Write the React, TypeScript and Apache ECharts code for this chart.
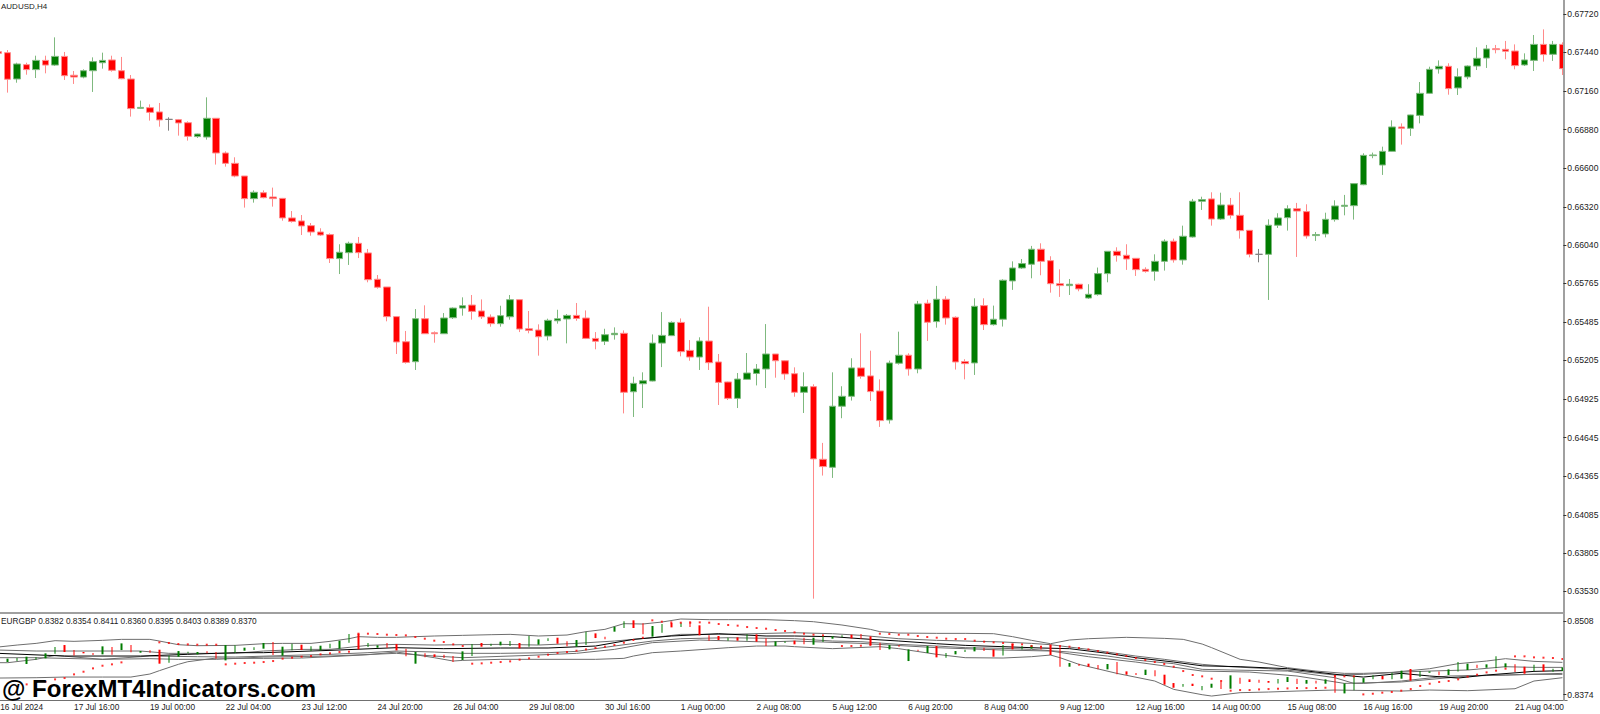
import React, { useRef, useEffect } from 'react'
import * as echarts from 'echarts'

// all prices are stored in points (1 point = 0.00001)
const POINT = 100000

const opens = [
  67445, 67438, 67247, 67351, 67315, 67382, 67348, 67411, 67274, 67261,
  67307, 67365, 67385, 67307, 67247, 67034, 67039, 67008, 66954, 66952,
  66930, 66829, 66826, 66962, 66710, 66635, 66543, 66379, 66422, 66391,
  66381, 66239, 66217, 66183, 66137, 66118, 65944, 65987, 66055, 65985,
  65794, 65738, 65523, 65341, 65196, 65508, 65406, 65399, 65515, 65585,
  65607, 65564, 65520, 65472, 65522, 65646, 65435, 65426, 65382, 65493,
  65506, 65532, 65513, 65365, 65344, 65392, 65402, 64978, 65036, 65056,
  65331, 65385, 65481, 65278, 65230, 65346, 65194, 65049, 64930, 65068,
  65111, 65143, 65252, 65203, 65109, 64974, 65015, 64488, 64430, 64873,
  64945, 65151, 65093, 64984, 64773, 65185, 65243, 65143, 65620, 65487,
  65649, 65518, 65197, 65187, 65603, 65465, 65504, 65782, 65876, 65903,
  66012, 65929, 65762, 65748, 65758, 65658, 65683, 65835, 65997, 65968,
  65946, 65866, 65852, 65924, 66070, 65934, 66101, 66360, 66377, 66231,
  66333, 66258, 66149, 65975, 65975, 66186, 66241, 66306, 66285, 66111,
  66123, 66227, 66323, 66328, 66480, 66691, 66623, 66722, 66899, 66889,
  66983, 67143, 67320, 67339, 67182, 67262, 67341, 67399, 67467, 67462,
  67450, 67349, 67382, 67498, 67426, 67498,
]
const closes = [
  67433, 67245, 67356, 67315, 67382, 67348, 67411, 67271, 67261, 67307,
  67373, 67382, 67310, 67249, 67032, 67041, 67005, 66950, 66954, 66928,
  66831, 66848, 66962, 66710, 66635, 66543, 66379, 66425, 66386, 66379,
  66239, 66214, 66181, 66137, 66115, 65944, 65990, 66055, 65987, 65791,
  65736, 65523, 65339, 65191, 65508, 65399, 65399, 65513, 65585, 65602,
  65561, 65522, 65472, 65530, 65646, 65433, 65423, 65377, 65496, 65508,
  65532, 65510, 65365, 65344, 65392, 65402, 64974, 65039, 65058, 65331,
  65387, 65481, 65269, 65230, 65346, 65189, 65046, 64930, 65070, 65114,
  65143, 65252, 65203, 65107, 64974, 65015, 64491, 64435, 64873, 64945,
  65151, 65090, 64979, 64769, 65187, 65243, 65143, 65615, 65482, 65649,
  65513, 65194, 65182, 65598, 65465, 65504, 65787, 65876, 65908, 66012,
  65924, 65762, 65748, 65758, 65724, 65685, 65835, 65997, 65966, 65941,
  65864, 65852, 65924, 66070, 65934, 66106, 66360, 66372, 66231, 66333,
  66258, 66147, 65975, 65975, 66186, 66239, 66306, 66289, 66108, 66118,
  66229, 66326, 66331, 66488, 66693, 66696, 66722, 66899, 66889, 66986,
  67143, 67317, 67339, 67177, 67264, 67341, 67397, 67465, 67460, 67448,
  67344, 67385, 67498, 67424, 67498, 67322,
]
const highs = [
  67452, 67457, 67365, 67365, 67416, 67416, 67549, 67443, 67305, 67317,
  67404, 67438, 67416, 67407, 67276, 67090, 67063, 67073, 66969, 66957,
  66940, 66850, 67114, 66962, 66722, 66679, 66543, 66439, 66439, 66459,
  66384, 66289, 66260, 66202, 66164, 66127, 66048, 66067, 66101, 66014,
  65825, 65738, 65523, 65419, 65578, 65605, 65416, 65549, 65590, 65663,
  65680, 65648, 65539, 65602, 65680, 65646, 65564, 65467, 65508, 65573,
  65542, 65622, 65568, 65411, 65435, 65445, 65423, 65087, 65119, 65394,
  65556, 65489, 65510, 65353, 65373, 65595, 65252, 65051, 65114, 65259,
  65179, 65469, 65252, 65208, 65155, 65119, 65032, 64607, 65119, 65018,
  65221, 65402, 65276, 65068, 65204, 65414, 65257, 65637, 65646, 65746,
  65671, 65525, 65214, 65656, 65656, 65603, 65794, 65924, 65941, 66036,
  66055, 65961, 65866, 65796, 65762, 65758, 65879, 65999, 66026, 66048,
  65946, 65881, 65975, 66084, 66089, 66183, 66377, 66393, 66425, 66422,
  66384, 66425, 66149, 66014, 66229, 66273, 66331, 66348, 66338, 66137,
  66277, 66367, 66406, 66490, 66708, 66713, 66756, 66947, 66925, 66988,
  67225, 67336, 67382, 67361, 67324, 67346, 67477, 67494, 67494, 67523,
  67498, 67433, 67566, 67607, 67523, 67513,
]
const lows = [
  67426, 67148, 67220, 67278, 67254, 67288, 67341, 67240, 67211, 67252,
  67153, 67322, 67300, 67245, 66974, 67032, 66945, 66901, 66872, 66836,
  66800, 66819, 66807, 66626, 66611, 66534, 66314, 66350, 66381, 66321,
  66219, 66205, 66115, 66110, 66108, 65912, 65832, 65898, 65948, 65772,
  65726, 65489, 65252, 65182, 65136, 65399, 65334, 65399, 65506, 65530,
  65501, 65506, 65450, 65450, 65501, 65411, 65402, 65240, 65351, 65472,
  65329, 65493, 65360, 65286, 65317, 65356, 64821, 64795, 64860, 65053,
  65157, 65382, 65235, 65203, 65136, 65136, 64882, 64918, 64860, 65065,
  65024, 65005, 65080, 65065, 64942, 64824, 63477, 64370, 64353, 64786,
  64914, 65073, 64911, 64723, 64747, 65175, 65095, 65112, 65347, 65443,
  65465, 65139, 65068, 65100, 65426, 65458, 65451, 65717, 65869, 65801,
  65823, 65697, 65666, 65680, 65707, 65651, 65675, 65772, 65922, 65862,
  65818, 65842, 65784, 65857, 65915, 65900, 66096, 66297, 66183, 66224,
  66234, 66089, 65953, 65917, 65644, 66166, 66147, 65956, 66089, 66072,
  66098, 66212, 66258, 66227, 66476, 66672, 66551, 66720, 66771, 66834,
  66925, 67138, 67286, 67133, 67131, 67245, 67312, 67327, 67433, 67390,
  67317, 67341, 67305, 67373, 67378, 67276,
]

// lower panel: EURGBP bars
const subOpens = [
  84383, 84334, 84352, 84298, 84377, 84401, 84486, 84643, 84552, 84516,
  84498, 84474, 84607, 84552, 84643, 84504, 84546, 84558, 84322, 84431,
  84492, 84474, 84528, 84516, 84364, 84498, 84540, 84552, 84577, 84698,
  84449, 84546, 84649, 84534, 84546, 84583, 84577, 84686, 84849, 84607,
  84595, 84680, 84661, 84577, 84304, 84492, 84474, 84467, 84443, 84370,
  84443, 84680, 84625, 84637, 84625, 84680, 84613, 84649, 84716, 84776,
  84710, 84613, 84643, 84855, 84795, 84886, 84952, 85092, 85037, 84795,
  84867, 85043, 84970, 85073, 85001, 84819, 84807, 84722, 84783, 84722,
  84837, 84764, 84625, 84680, 84722, 84776, 84649, 84698, 84758, 84783,
  84831, 84843, 84801, 84686, 84564, 84643, 84352, 84558, 84498, 84625,
  84413, 84474, 84516, 84528, 84595, 84564, 84455, 84667, 84564, 84577,
  84625, 84637, 84613, 84249, 84304, 84304, 84280, 84201, 84334, 84164,
  84134, 84098, 84183, 84104, 83952, 83886, 83940, 83819, 83867, 83977,
  83849, 84049, 84019, 84013, 83989, 83946, 83971, 84031, 83940, 83995,
  83940, 84098, 83764, 83819, 83958, 84019, 84080, 84019, 84031, 84207,
  84061, 84140, 84164, 84098, 84164, 84189, 84286, 84231, 84219, 84237,
  84292, 84249, 84170, 84292, 84158, 84170,
]
const subCloses = [
  84358, 84395, 84407, 84431, 84419, 84492, 84607, 84516, 84455, 84492,
  84461, 84619, 84467, 84673, 84510, 84534, 84504, 84304, 84455, 84534,
  84522, 84516, 84492, 84395, 84643, 84637, 84595, 84601, 84680, 84461,
  84613, 84667, 84552, 84619, 84631, 84667, 84722, 84843, 84564, 84680,
  84637, 84595, 84546, 84437, 84516, 84419, 84425, 84407, 84334, 84528,
  84661, 84613, 84667, 84704, 84716, 84583, 84807, 84746, 84764, 84667,
  84619, 84734, 84886, 84770, 84746, 84976, 85073, 84952, 84837, 84989,
  85025, 84964, 85049, 84970, 84819, 84722, 84734, 84776, 84722, 84837,
  84704, 84625, 84710, 84710, 84655, 84655, 84776, 84807, 84801, 84819,
  84764, 84758, 84643, 84552, 84643, 84613, 84564, 84534, 84625, 84419,
  84498, 84534, 84558, 84607, 84534, 84431, 84643, 84564, 84625, 84637,
  84564, 84461, 84249, 84316, 84261, 84249, 84201, 84298, 84110, 84104,
  84098, 84195, 84074, 83922, 83867, 83934, 83898, 83898, 83940, 83843,
  84092, 83940, 83971, 83958, 83958, 84025, 84061, 83934, 84007, 83946,
  84019, 83777, 83946, 84080, 84043, 84092, 84019, 84140, 84177, 83995,
  84170, 84164, 84092, 84201, 84334, 84304, 84225, 84292, 84437, 84310,
  84152, 84122, 84286, 84164, 84213, 84237,
]
const sarDots = [
  null, null, null, 83928, 83971, 83977, 84019, 84043, 84110, 84158,
  84219, 84267, 84292, 84328, null, null, null, 84692, 84680, 84661,
  84655, 84649, 84649, 84649, 84292, 84304, 84316, 84322, 84334, 84352,
  84395, 84413, 84431, 84443, 84474, 84492, 84516, 84522, 84849, 84849,
  84843, 84831, 84825, 84819, 84789, 84758, 84722, 84698, 84655, 84625,
  84304, 84310, 84322, 84334, 84346, 84377, 84401, 84431, 84467, 84498,
  84516, 84540, 84564, 84589, 84613, 84643, 84686, 84734, 84776, 85092,
  85067, 85055, 85049, 85049, 85055, 85049, 85025, 85007, 84995, 84970,
  84952, 84940, 84916, 84898, 84873, 84849, 84831, 84819, null, 84625,
  84625, 84631, 84643, 84849, 84843, 84831, 84831, 84807, 84789, 84776,
  84758, 84752, 84752, 84722, 84704, 84692, 84680, 84655, 84655, 84625,
  84613, 84637, 84625, 84613, 84589, 84564, 84534, 84504, 84474, 84443,
  84407, 84370, 84334, 84298, 84249, 84170, 84098, 84074, 84031, 83989,
  83813, 83825, 83825, 83837, 83843, 83849, 83855, 83861, 83861, 83861,
  83867, 84080, 84074, 84074, 83746, 83758, 83777, 83789, 83813, 83843,
  83898, 83940, 83971, 83989, 84019, 84068, 84104, 84146, 84177, 84213,
  84437, 84437, 84419, 84413, 84407, 84389,
]

// band lines, read at [bar, points]
const bandUpper = [
  [0, 84607], [2, 84643], [4, 84673], [6, 84722], [8, 84710], [11, 84728], [13, 84746], [16, 84746], [17, 84716], [19, 84649],
  [21, 84631], [25, 84637], [28, 84667], [30, 84673], [33, 84673], [35, 84710], [37, 84758], [38, 84795], [40, 84783], [42, 84783],
  [44, 84795], [46, 84807], [49, 84819], [52, 84831], [54, 84837], [57, 84807], [60, 84825], [62, 84886], [64, 84928], [66, 85031],
  [68, 85025], [70, 85061], [72, 85116], [75, 85104], [77, 85104], [81, 85104], [84, 85086], [86, 85067], [89, 85007], [92, 84928],
  [93, 84886], [95, 84861], [99, 84855], [102, 84855], [105, 84849], [107, 84795], [109, 84728], [111, 84667], [113, 84734], [115, 84758],
  [119, 84783], [123, 84764], [125, 84746], [127, 84661], [128, 84595], [131, 84383], [133, 84334], [136, 84231], [139, 84170], [142, 84128],
  [144, 84128], [147, 84146], [151, 84213], [154, 84304], [157, 84352], [159, 84395], [162, 84346], [165, 84328],
]
const bandLower = [
  [0, 84043], [4, 84049], [7, 84061], [11, 84061], [14, 84061], [16, 84116], [17, 84177], [19, 84292], [20, 84340], [23, 84407],
  [25, 84401], [28, 84401], [32, 84407], [35, 84431], [39, 84467], [42, 84516], [44, 84467], [46, 84413], [48, 84352], [49, 84364],
  [53, 84383], [56, 84383], [60, 84383], [63, 84383], [66, 84401], [67, 84443], [69, 84504], [72, 84534], [77, 84595], [80, 84625],
  [83, 84625], [84, 84613], [88, 84577], [93, 84613], [95, 84577], [99, 84474], [102, 84413], [106, 84407], [109, 84431], [111, 84461],
  [112, 84413], [114, 84292], [118, 84128], [122, 83989], [124, 83837], [127, 83740], [128, 83716], [131, 83777], [134, 83789], [137, 83807],
  [141, 83825], [148, 83807], [151, 83825], [155, 83813], [160, 83849], [162, 83989], [165, 84049],
]
const innerUpper = [
  [0, 84552], [4, 84534], [11, 84534], [15, 84534], [18, 84492], [21, 84492], [25, 84492], [28, 84534], [32, 84564], [35, 84564],
  [39, 84637], [42, 84655], [46, 84643], [49, 84649], [53, 84655], [57, 84643], [61, 84673], [65, 84716], [69, 84776], [72, 84837],
  [77, 84837], [84, 84867], [88, 84849], [91, 84819], [95, 84758], [99, 84728], [102, 84716], [106, 84698], [109, 84673], [111, 84649],
  [115, 84564], [120, 84443], [123, 84383], [127, 84292], [130, 84249], [134, 84213], [137, 84170], [141, 84098], [144, 84110], [148, 84152],
  [151, 84170], [155, 84189], [159, 84249], [162, 84237], [165, 84237],
]
const middleLine = [
  [0, 84492], [7, 84443], [15, 84443], [17, 84455], [20, 84474], [25, 84504], [28, 84504], [35, 84546], [42, 84595], [47, 84577],
  [53, 84589], [58, 84589], [63, 84625], [67, 84746], [71, 84807], [76, 84849], [81, 84807], [84, 84807], [88, 84795], [91, 84758],
  [95, 84716], [99, 84667], [102, 84637], [106, 84613], [110, 84589], [113, 84577], [117, 84492], [120, 84413], [124, 84334], [127, 84265],
  [131, 84249], [136, 84213], [139, 84152], [142, 84092], [144, 84061], [148, 84128], [151, 84080], [154, 84043], [157, 84098], [162, 84164],
  [165, 84177],
]
const innerLower = [
  [0, 84413], [4, 84413], [11, 84383], [16, 84443], [21, 84431], [25, 84425], [32, 84461], [35, 84474], [39, 84504], [42, 84534],
  [46, 84516], [49, 84492], [53, 84492], [58, 84504], [61, 84528], [65, 84625], [69, 84716], [72, 84758], [77, 84776], [84, 84758],
  [88, 84716], [91, 84704], [95, 84655], [99, 84625], [102, 84595], [106, 84583], [109, 84564], [113, 84516], [117, 84443], [120, 84370],
  [124, 84304], [127, 84201], [130, 84189], [136, 84170], [141, 84049], [143, 83946], [144, 83946], [148, 83989], [153, 84080], [159, 84098],
  [165, 84128],
]
const innerLowest = [
  [0, 84322], [1, 84322], [4, 84383], [6, 84455], [11, 84383], [16, 84395], [19, 84383], [23, 84383], [28, 84425], [35, 84443],
  [42, 84492], [46, 84443], [49, 84413], [56, 84455], [61, 84492], [65, 84564], [69, 84686], [74, 84734], [81, 84698], [84, 84716],
  [91, 84673], [99, 84595], [106, 84552], [111, 84534], [115, 84431], [120, 84334], [127, 84170], [132, 84152], [137, 84080], [142, 83946],
  [148, 83971], [155, 84080], [162, 84110], [165, 84110],
]

// one label every 8 bars
const timeLabels = [
  '16 Jul 2024', '17 Jul 16:00', '19 Jul 00:00', '22 Jul 04:00', '23 Jul 12:00', '24 Jul 20:00', '26 Jul 04:00',
  '29 Jul 08:00', '30 Jul 16:00', '1 Aug 00:00', '2 Aug 08:00', '5 Aug 12:00', '6 Aug 20:00', '8 Aug 04:00',
  '9 Aug 12:00', '12 Aug 16:00', '14 Aug 00:00', '15 Aug 08:00', '16 Aug 16:00', '19 Aug 20:00', '21 Aug 04:00',
]
const priceTicks = [
  0.6772, 0.6744, 0.6716, 0.6688, 0.666, 0.6632, 0.6604, 0.65765, 0.65485, 0.65205, 0.64925, 0.64645, 0.64365, 0.64085,
  0.63805, 0.6353,
]
const subTicks = [0.8508, 0.8374]
const chartTitle = 'AUDUSD,H4'
const subTitle = 'EURGBP 0.8382 0.8354 0.8411 0.8360 0.8395 0.8403 0.8389 0.8370'
const watermark = '@ ForexMT4Indicators.com'

const FONT = '"Liberation Sans", Arial, sans-serif'
const TEXT = '#1a1a1a'
const RED = '#ff0000'
const GREEN = '#007c00'
const GRAY = '#808080'
const BAND = '#6e6e6e'
const FRAME = '#a0a0a0'

const categories = opens.map((_, i) => (i % 8 === 0 ? timeLabels[i / 8] : ''))

const candleItems = opens.map((o, i) => {
  const value = [o / POINT, closes[i] / POINT, lows[i] / POINT, highs[i] / POINT]
  if (o === closes[i]) {
    return { value, itemStyle: { color: GRAY, color0: GRAY, borderColor: GRAY, borderColor0: GRAY } }
  }
  return value
})
const subItems = subOpens.map((o, i) => {
  const c = subCloses[i]
  return [o / POINT, c / POINT, Math.min(o, c) / POINT, Math.max(o, c) / POINT]
})
const toLine = (pts: number[][]) => pts.map(([i, v]) => [i, v / POINT])
const sarItems = sarDots.flatMap((v, i) => (v === null ? [] : [[i, v / POINT]]))

const bandSeries = (data: number[][], color = BAND, width = 1) => ({
  type: 'line',
  xAxisIndex: 1,
  yAxisIndex: 1,
  data: toLine(data),
  showSymbol: false,
  silent: true,
  z: 2,
  lineStyle: { color, width },
})

const App: React.FC = () => {
  const chartRef = useRef<HTMLDivElement>(null)

  useEffect(() => {
    if (!chartRef.current) return
    const chart = echarts.init(chartRef.current, undefined, { renderer: 'svg' })

    const gridLeft = -6.54
    const gridWidth = 1573.7
    const axisOffset = -3.8

    chart.setOption({
      animation: false,
      backgroundColor: '#ffffff',
      grid: [
        { left: gridLeft, width: gridWidth, top: 0, height: 613, outerBoundsMode: 'none' },
        { left: gridLeft, width: gridWidth, top: 614, height: 86, outerBoundsMode: 'none' },
      ],
      xAxis: [
        {
          type: 'category',
          gridIndex: 0,
          data: categories,
          axisLabel: { show: false },
          axisTick: { show: false },
          axisLine: { lineStyle: { color: FRAME, width: 2 } },
        },
        {
          type: 'category',
          gridIndex: 1,
          data: categories,
          axisLine: { lineStyle: { color: '#707070', width: 1 } },
          axisTick: { alignWithLabel: true, interval: 7, length: 3, lineStyle: { color: '#333' } },
          axisLabel: {
            interval: 7,
            align: 'left',
            margin: 3,
            fontFamily: FONT,
            fontSize: 8.3,
            color: TEXT,
            hideOverlap: false,
            // the first label would start just off the page
            formatter: (v: string, i: number) => (i === 0 ? `{first|${v}}` : v),
            rich: { first: { padding: [0, 0, 0, 2], fontFamily: FONT, fontSize: 8.3, color: TEXT } },
          },
        },
      ],
      yAxis: [
        {
          type: 'value',
          gridIndex: 0,
          position: 'right',
          offset: axisOffset,
          min: 0.63373,
          max: 0.6782,
          z: 5,
          splitLine: { show: false },
          axisLine: { show: true, lineStyle: { color: FRAME, width: 2 } },
          axisTick: { show: true, length: 3, customValues: priceTicks, lineStyle: { color: '#333' } },
          axisLabel: {
            customValues: priceTicks,
            formatter: (v: number) => v.toFixed(5),
            margin: 4,
            fontFamily: FONT,
            fontSize: 8.6,
            color: TEXT,
          },
        },
        {
          type: 'value',
          gridIndex: 1,
          position: 'right',
          offset: axisOffset,
          min: 0.83644,
          max: 0.85207,
          z: 5,
          splitLine: { show: false },
          axisLine: { show: true, lineStyle: { color: FRAME, width: 2 } },
          axisTick: { show: true, length: 3, customValues: subTicks, lineStyle: { color: '#333' } },
          axisLabel: {
            customValues: subTicks,
            formatter: (v: number) => v.toFixed(4),
            margin: 4,
            fontFamily: FONT,
            fontSize: 8.6,
            color: TEXT,
          },
        },
      ],
      series: [
        {
          type: 'candlestick',
          xAxisIndex: 0,
          yAxisIndex: 0,
          data: candleItems,
          barWidth: 7,
          silent: true,
          itemStyle: {
            color: GREEN,
            color0: RED,
            borderColor: '#7fb97f',
            borderColor0: '#ff8a8a',
            borderWidth: 1,
          },
        },
        bandSeries(bandUpper),
        bandSeries(bandLower),
        bandSeries(innerUpper),
        bandSeries(innerLower),
        bandSeries(innerLowest),
        bandSeries(middleLine, '#000000', 1),
        {
          type: 'candlestick',
          xAxisIndex: 1,
          yAxisIndex: 1,
          data: subItems,
          barWidth: 2,
          silent: true,
          z: 3,
          itemStyle: { color: GREEN, color0: RED, borderColor: GREEN, borderColor0: RED, borderWidth: 0 },
        },
        {
          type: 'scatter',
          xAxisIndex: 1,
          yAxisIndex: 1,
          data: sarItems,
          symbol: 'rect',
          symbolSize: 2,
          silent: true,
          z: 4,
          itemStyle: { color: RED },
        },
      ],
      graphic: [
        // hides the part of the last bar that runs past the price scale
        { type: 'rect', z: 3, shape: { x: 1564, y: 0, width: 36, height: 700 }, style: { fill: '#ffffff' } },
        {
          type: 'text',
          z: 6,
          x: 1,
          y: 2,
          style: { text: chartTitle, font: `8px ${FONT}`, fill: TEXT },
        },
        {
          type: 'text',
          z: 6,
          x: 1,
          y: 617,
          style: { text: subTitle, font: `8.3px ${FONT}`, fill: TEXT },
        },
        {
          type: 'text',
          z: 6,
          x: 2,
          y: 676,
          style: { text: watermark, font: `bold 24px ${FONT}`, fill: '#000000' },
        },
      ],
    })

    return () => {
      chart.dispose()
    }
  }, [])

  return <div ref={chartRef} style={{ position: 'fixed', left: 0, top: 0, width: 1600, height: 714 }} />
}

export default App
